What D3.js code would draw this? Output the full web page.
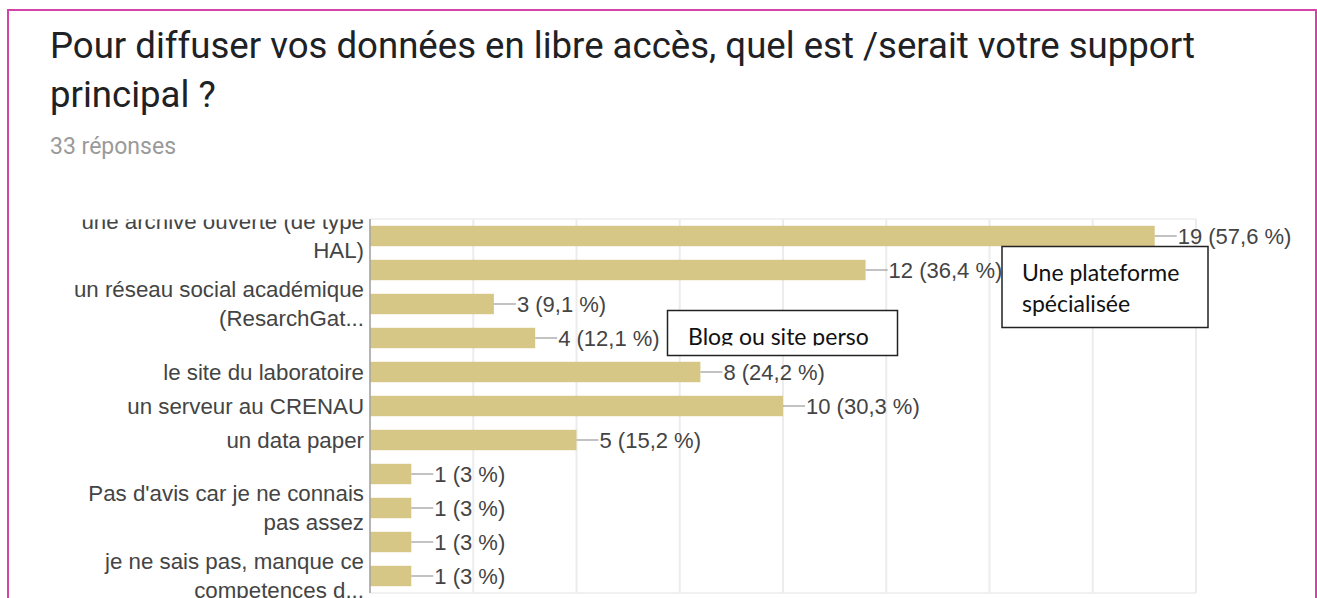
<!DOCTYPE html>
<html>

<head>
    <meta charset="utf-8">
    <title>Support principal</title>
    <script src="https://cdn.jsdelivr.net/npm/d3@7/dist/d3.min.js"></script>
    <style>
        body { margin: 0; background: #fff; }
    </style>
</head>

<body>
    <svg width="1317" height="598" id="mainsvg"></svg>
    <script>
        // data
        const categories = [
            'une archive ouverte (de type HAL)', 'une plateforme spécialisée',
            'un réseau social académique (ResarchGate)', 'Blog ou site perso',
            'le site du laboratoire', 'un serveur au CRENAU', 'un data paper',
            'autre 1', "Pas d'avis car je ne connais pas assez", 'autre 2',
            'je ne sais pas, manque ce competences d...'
        ];
        // labels as the chart shows them (some are skipped)
        const shownLabels = [
            ['une archive ouverte (de type', 'HAL)'], [],
            ['un réseau social académique', '(ResarchGat...'], [],
            ['le site du laboratoire'], ['un serveur au CRENAU'], ['un data paper'], [],
            ["Pas d'avis car je ne connais", 'pas assez'], [],
            ['je ne sais pas, manque ce', 'competences d...']
        ];
        const counts = [19, 12, 3, 4, 8, 10, 5, 1, 1, 1, 1];
        const total = 33;
        const gridTicks = [0, 2.5, 5, 7.5, 10, 12.5, 15, 17.5, 20];
        const notes = [
            { lines: ['Une plateforme', 'spécialisée'] },
            { lines: ['Blog ou site perso'] }
        ];

        const svg = d3.select('svg');
        const width = +svg.attr('width');
        const height = +svg.attr('height');

        svg.append('rect').attr('width', width).attr('height', height).attr('fill', '#fff');

        // pink frame
        svg.append('rect')
            .attr('x', 8).attr('y', 10).attr('width', 1308).attr('height', 620)
            .attr('fill', 'none').attr('stroke', '#d444a8').attr('stroke-width', 2);

        const title = svg.append('text')
            .attr('font-family', 'Roboto, Arial, sans-serif')
            .attr('font-size', 36.6).attr('fill', '#202124');
        title.append('tspan').attr('x', 50).attr('y', 58)
            .text('Pour diffuser vos données en libre accès, quel est /serait votre support');
        title.append('tspan').attr('x', 50).attr('y', 107).text('principal ?');

        svg.append('text').attr('x', 50).attr('y', 154)
            .attr('font-family', 'Roboto, Arial, sans-serif')
            .attr('font-size', 23).attr('fill', '#9a9a9a')
            .text(total + ' réponses');

        const x = d3.scaleLinear().domain([0, 20]).range([370, 1196]);
        const y = d3.scaleBand().domain(d3.range(categories.length))
            .range([219, 593]).paddingInner(0.4).paddingOuter(0.2);

        // grid
        svg.append('g').selectAll('line').data(gridTicks).join('line')
            .attr('x1', d => x(d)).attr('x2', d => x(d))
            .attr('y1', 219).attr('y2', 593)
            .attr('stroke', '#ececec').attr('stroke-width', 2);
        svg.append('g').selectAll('line').data([219, 593]).join('line')
            .attr('x1', x(0)).attr('x2', x(20))
            .attr('y1', d => d).attr('y2', d => d)
            .attr('stroke', '#ececec').attr('stroke-width', 1.5);

        // bars
        svg.append('g').selectAll('rect').data(counts).join('rect')
            .attr('x', x(0))
            .attr('y', (d, i) => y(i))
            .attr('width', d => x(d) - x(0))
            .attr('height', y.bandwidth())
            .attr('fill', '#d7c787');

        // axis line
        svg.append('line')
            .attr('x1', x(0)).attr('x2', x(0)).attr('y1', 219).attr('y2', 593)
            .attr('stroke', '#a3a3a3').attr('stroke-width', 1.5);

        // value labels
        const fmt = v => {
            const p = Math.round(v / total * 1000) / 10;
            return v + ' (' + String(p).replace('.', ',') + ' %)';
        };
        const vals = svg.append('g');
        vals.selectAll('line').data(counts).join('line')
            .attr('x1', d => x(d)).attr('x2', d => x(d) + 22)
            .attr('y1', (d, i) => y(i) + y.bandwidth() / 2)
            .attr('y2', (d, i) => y(i) + y.bandwidth() / 2)
            .attr('stroke', '#9a9a9a').attr('stroke-width', 1.2);
        vals.selectAll('text').data(counts).join('text')
            .attr('x', d => x(d) + 23)
            .attr('y', (d, i) => y(i) + y.bandwidth() / 2 + 7.5)
            .attr('font-family', 'Arial, "Liberation Sans", sans-serif')
            .attr('font-size', 22).attr('fill', '#444')
            .text(d => fmt(d));

        // category labels (clipped at the top of the plot)
        svg.append('clipPath').attr('id', 'labclip')
            .append('rect').attr('x', 0).attr('y', 219.5).attr('width', 370).attr('height', 400);
        const labs = svg.append('g').attr('clip-path', 'url(#labclip)')
            .attr('font-family', 'Arial, "Liberation Sans", sans-serif')
            .attr('font-size', 22.3).attr('fill', '#444').attr('text-anchor', 'end');
        labs.selectAll('text').data(shownLabels).join('text')
            .each(function (lines, i) {
                const c = y(i) + y.bandwidth() / 2;
                const t = d3.select(this);
                lines.forEach((s, k) => {
                    const off = lines.length === 1 ? 7.5 : (k === 0 ? -7 : 22);
                    t.append('tspan').attr('x', 364).attr('y', c + off).text(s);
                });
            });

        // callout boxes
        const boxFont = '"Century Gothic", Lato, "Open Sans", sans-serif';
        const b1 = svg.append('g');
        b1.append('rect').attr('x', 1002).attr('y', 246.5).attr('width', 206).attr('height', 81)
            .attr('fill', '#fff').attr('stroke', '#222').attr('stroke-width', 1.5);
        b1.selectAll('text').data(notes[0].lines).join('text')
            .attr('x', 1022).attr('y', (d, i) => 281 + i * 30.5)
            .attr('font-family', boxFont).attr('font-size', 23).attr('fill', '#111')
            .text(d => d);

        svg.append('clipPath').attr('id', 'boxclip')
            .append('rect').attr('x', 667).attr('y', 310).attr('width', 231).attr('height', 35.5);
        const b2 = svg.append('g');
        b2.append('rect').attr('x', 667.5).attr('y', 310.5).attr('width', 230).attr('height', 45)
            .attr('fill', '#fff').attr('stroke', '#222').attr('stroke-width', 1.5);
        b2.append('g').attr('clip-path', 'url(#boxclip)')
            .selectAll('text').data(notes[1].lines).join('text')
            .attr('x', 688).attr('y', 344.5)
            .attr('font-family', boxFont).attr('font-size', 23).attr('fill', '#111')
            .text(d => d);
    </script>
</body>

</html>
